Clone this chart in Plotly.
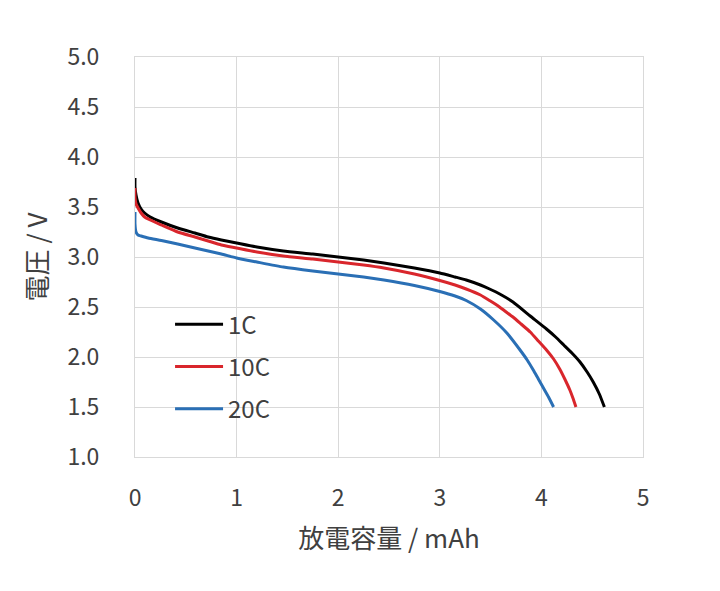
import plotly.graph_objects as go

# 1C
x_1c = [0, 0, 0.01, 0.03, 0.06, 0.095, 0.15, 0.26, 0.42, 0.59, 0.72, 0.85, 1.0, 1.2, 1.46, 1.75, 2.0, 2.25, 2.45, 2.75,
        3.0, 3.15, 3.26, 3.40, 3.49, 3.59, 3.72, 3.89, 4.05, 4.14, 4.22, 4.30, 4.38, 4.45, 4.51, 4.57, 4.62]
v_1c = [3.79, 3.70, 3.62, 3.54, 3.48, 3.44, 3.40, 3.35, 3.29, 3.24, 3.20, 3.17, 3.14, 3.10, 3.06, 3.03, 3.00, 2.97, 2.94, 2.89,
        2.84, 2.80, 2.77, 2.72, 2.68, 2.63, 2.55, 2.41, 2.28, 2.20, 2.12, 2.04, 1.95, 1.85, 1.75, 1.63, 1.50]
# 10C
x_10c = [0, 0, 0.01, 0.03, 0.06, 0.095, 0.15, 0.26, 0.42, 0.59, 0.72, 0.85, 1.0, 1.2, 1.46, 1.75, 2.0, 2.25, 2.45, 2.75,
         3.0, 3.15, 3.26, 3.40, 3.49, 3.56, 3.64, 3.72, 3.80, 3.89, 3.97, 4.05, 4.12, 4.18, 4.23, 4.28, 4.31, 4.34]
v_10c = [3.69, 3.60, 3.53, 3.49, 3.44, 3.40, 3.37, 3.32, 3.25, 3.20, 3.16, 3.12, 3.09, 3.05, 3.01, 2.98, 2.95, 2.92, 2.89, 2.83,
         2.765, 2.72, 2.68, 2.62, 2.565, 2.52, 2.46, 2.40, 2.33, 2.25, 2.16, 2.07, 1.98, 1.88, 1.78, 1.67, 1.59, 1.50]
# 20C
x_20c = [0, 0, 0.01, 0.03, 0.06, 0.13, 0.26, 0.42, 0.59, 0.72, 0.85, 1.0, 1.2, 1.46, 1.75, 2.0, 2.25, 2.45, 2.75,
         3.0, 3.15, 3.26, 3.40, 3.53, 3.66, 3.79, 3.86, 3.92, 3.97, 4.02, 4.07, 4.12]
v_20c = [3.45, 3.33, 3.25, 3.22, 3.21, 3.19, 3.165, 3.13, 3.09, 3.06, 3.03, 2.99, 2.95, 2.90, 2.86, 2.83, 2.80, 2.77, 2.715,
         2.655, 2.61, 2.565, 2.48, 2.37, 2.24, 2.07, 1.97, 1.87, 1.78, 1.69, 1.60, 1.50]

series_names = ["1C", "10C", "20C"]
colors = ["#000000", "#d9262c", "#2a6fb5"]

FONT = "Noto Sans CJK JP"

fig = go.Figure()
for name, xs, ys, c in zip(series_names, [x_1c, x_10c, x_20c], [v_1c, v_10c, v_20c], colors):
    fig.add_trace(go.Scatter(x=xs, y=ys, mode="lines", name=name, legendgroup=name,
                             line=dict(color=c, width=3, shape="spline", smoothing=0.5)))

fig.update_layout(
    width=720, height=591,
    margin=dict(l=127, r=85, t=49, b=142),
    paper_bgcolor="white", plot_bgcolor="white",
    font=dict(family=FONT, color="#404040", size=23),
    showlegend=True,
    legend=dict(x=0.069, xanchor="left", y=0.387, yanchor="top",
                font=dict(size=24, color="#404040", family=FONT),
                tracegroupgap=8, itemwidth=48, bgcolor="rgba(0,0,0,0)"),
    xaxis=dict(range=[0, 5], dtick=1, tick0=0, showgrid=True, gridcolor="#d9d9d9", gridwidth=1,
               showline=True, linecolor="#d9d9d9", mirror=True, zeroline=False, ticks="",
               ticklabelstandoff=20, layer="below traces",
               title=dict(text="放電容量 / mAh", font=dict(size=26, color="#404040"), standoff=18)),
    yaxis=dict(range=[1, 5], dtick=0.5, tick0=1, tickformat=".1f", showgrid=True, gridcolor="#d9d9d9", gridwidth=1,
               showline=True, linecolor="#d9d9d9", mirror=True, zeroline=False, ticks="",
               ticklabelstandoff=30, layer="below traces",
               title=dict(text="電圧 / V", font=dict(size=26, color="#404040"), standoff=12)),
)

fig.write_html("out.html")
